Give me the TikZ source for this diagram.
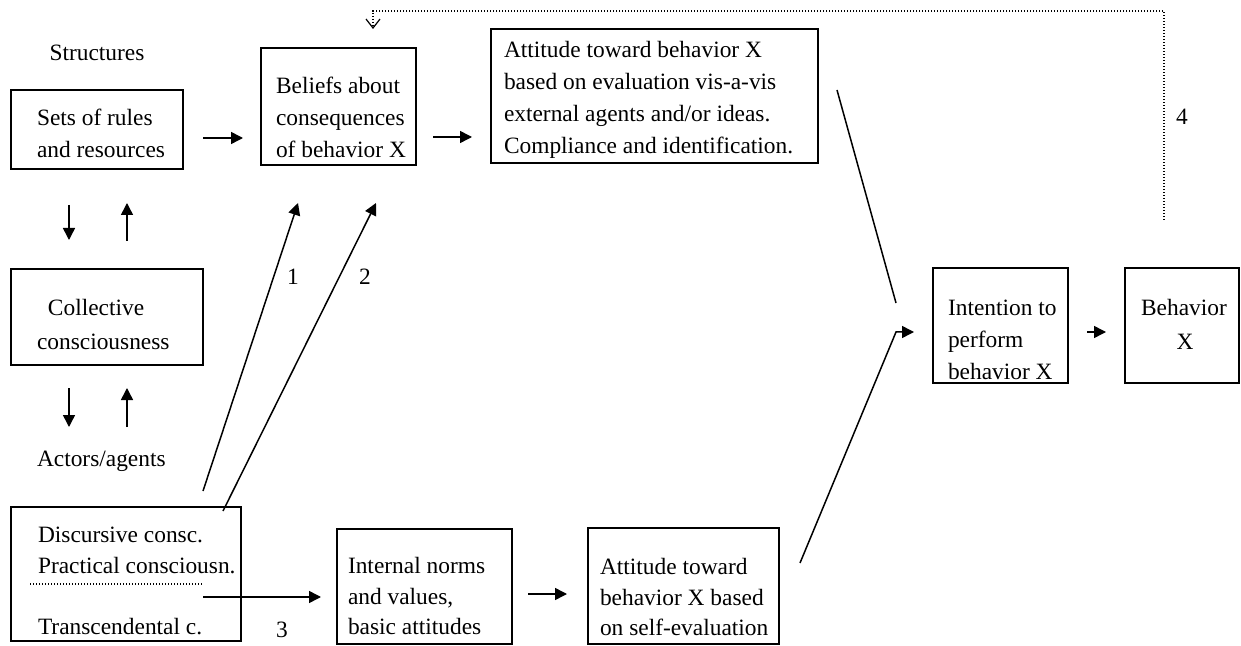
\documentclass[tikz,border=0pt]{standalone}
\usepackage{fontspec}
\setmainfont{Liberation Serif}
\usetikzlibrary{arrows.meta}
\begin{document}
\begin{tikzpicture}[x=0.5pt,y=-0.5pt,
  box/.style={draw,line width=0.75pt,inner sep=0pt,outer sep=0pt},
  txt/.style={inner sep=0pt,outer sep=0pt,align=left,font=\fontsize{11.7}{16}\selectfont},
  txtb/.style={inner sep=0pt,outer sep=0pt,align=left,font=\fontsize{11.7}{15.4}\selectfont},
  lab/.style={inner sep=0pt,outer sep=0pt,font=\fontsize{11.7}{13}\selectfont},
  arr/.style={line width=0.75pt,-{Triangle[length=6pt,width=6pt]}},
  plain/.style={line width=0.75pt},
  dots/.style={line width=0.6pt,dash pattern=on 0.6pt off 0.9pt}
]
\useasboundingbox (0,0) rectangle (1241,646);
% boxes
\node[box,minimum width=86pt,minimum height=39.5pt] (sets) at (97,129.5) {};
\node[box,minimum width=77.5pt,minimum height=58.5pt] (beliefs) at (338.5,106.5) {};
\node[box,minimum width=163.5pt,minimum height=67pt] (attext) at (654.5,96) {};
\node[box,minimum width=96pt,minimum height=48pt] (coll) at (107,317) {};
\node[box,minimum width=115pt,minimum height=67pt] (actors) at (126,574) {};
\node[box,minimum width=87.5pt,minimum height=57.5pt] (internal) at (424.5,586.5) {};
\node[box,minimum width=95.5pt,minimum height=58pt] (attself) at (683.5,586) {};
\node[box,minimum width=67.5pt,minimum height=57.5pt] (intention) at (1000.5,325.5) {};
\node[box,minimum width=57pt,minimum height=57.5pt] (behavior) at (1182,325.5) {};
% texts
\node[lab] (structT) at (97,53) {Structures};
\node[lab,anchor=west] (actT) at (37,461) {Actors/agents};
\node[txt,anchor=west] (setsT) at (37,133) {Sets of rules\\and resources};
\node[txt,anchor=west] (beliefsT) at (276,117) {Beliefs about\\consequences\\of behavior X};
\node[txt,anchor=west] (attextT) at (504,100) {Attitude toward behavior X\\based on evaluation vis-a-vis\\external agents and/or ideas.\\Compliance and identification.};
\node[txt,anchor=west,font=\fontsize{11.7}{17}\selectfont] (collT) at (37,324) {\hspace*{5.5pt}Collective\\consciousness};
\node[txtb,anchor=west] (actorsT) at (38,581) {Discursive consc.\\Practical consciousn.\\[15.4pt]Transcendental c.};
\node[txtb,anchor=west] (internalT) at (348,596) {Internal norms\\and values,\\basic attitudes};
\node[txtb,anchor=west] (attselfT) at (600,597) {Attitude toward\\behavior X based\\on self-evaluation};
\node[txt,anchor=west] (intentionT) at (948,340) {Intention to\\perform\\behavior X};
\node[txt,align=center,font=\fontsize{11.7}{17}\selectfont] (behaviorT) at (1184,324) {Behavior\\\hspace*{1pt}X};
\node[lab] (n1) at (293,277) {1};
\node[lab] (n2) at (365,277) {2};
\node[lab] (n3) at (282,630) {3};
\node[lab] (n4) at (1182,117) {4};
% connector end points
\coordinate (sA) at (203,138); \coordinate (sB) at (243,138);
\coordinate (bA) at (433,137); \coordinate (bB) at (472,137);
\coordinate (d1a) at (69,205); \coordinate (d1b) at (69,240);
\coordinate (u1a) at (127,241); \coordinate (u1b) at (127,203);
\coordinate (d2a) at (69,388); \coordinate (d2b) at (69,427);
\coordinate (u2a) at (127,427); \coordinate (u2b) at (127,388);
\coordinate (l1a) at (203,491); \coordinate (l1b) at (298,203);
\coordinate (l2a) at (223,511); \coordinate (l2b) at (376,203);
\coordinate (l3a) at (203,597); \coordinate (l3b) at (321,597);
\coordinate (iA) at (528,594); \coordinate (iB) at (567,594);
\coordinate (eA) at (837,90); \coordinate (eB) at (896,303);
\coordinate (fA) at (800,563); \coordinate (fK) at (896,332); \coordinate (fB) at (914,332);
\coordinate (gA) at (1087,332); \coordinate (gB) at (1106,332);
\coordinate (q1) at (1164,220); \coordinate (q2) at (1164,11); \coordinate (q3) at (373,11); \coordinate (q4) at (373,29);
\coordinate (dl1) at (30,584); \coordinate (dl2) at (203,584);
% connectors
\draw[arr] (sA) -- (sB);
\draw[arr] (bA) -- (bB);
\draw[arr] (d1a) -- (d1b);
\draw[arr] (u1a) -- (u1b);
\draw[arr] (d2a) -- (d2b);
\draw[arr] (u2a) -- (u2b);
\draw[arr] (l1a) -- (l1b);
\draw[arr] (l2a) -- (l2b);
\draw[arr] (l3a) -- (l3b);
\draw[arr] (iA) -- (iB);
\draw[plain] (eA) -- (eB);
\draw[arr] (fA) -- (fK) -- (fB);
\draw[arr] (gA) -- (gB);
\draw[dots,-{Straight Barb[length=4.5pt,width=7pt,line width=0.6pt]}] (q1) -- (q2) -- (q3) -- (q4);
\draw[dots] (dl1) -- (dl2);
\end{tikzpicture}
\end{document}
